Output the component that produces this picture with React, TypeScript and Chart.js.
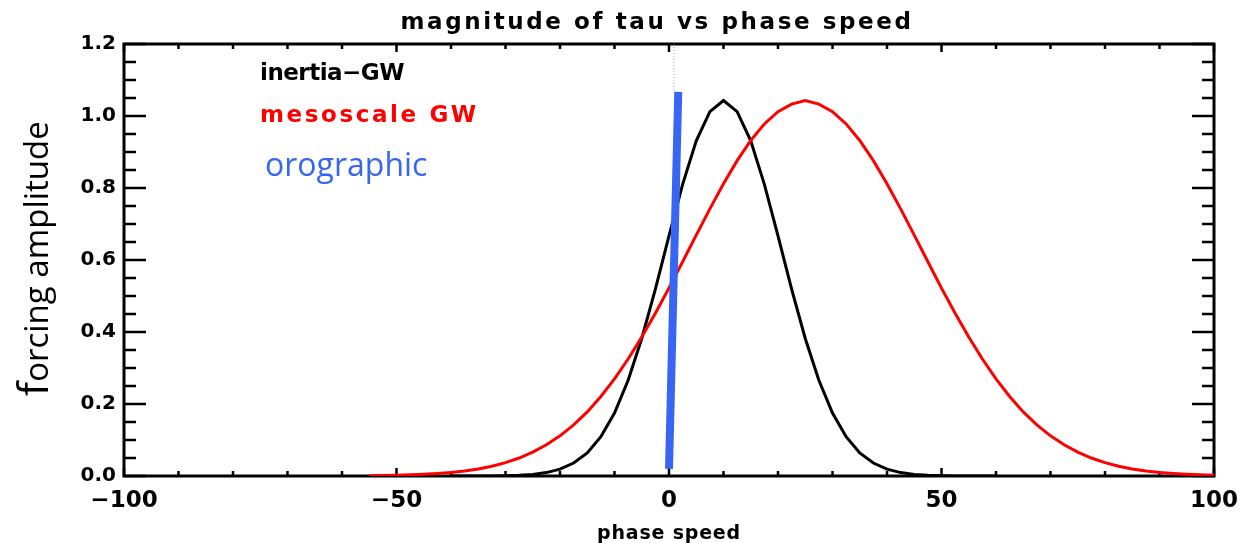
import React, { useEffect, useRef } from 'react';
import { Chart, registerables } from 'chart.js';

Chart.register(...registerables);

const titleText = 'magnitude of tau vs phase speed';
const xAxisTitle = 'phase speed';
const yAxisTitle = 'forcing amplitude';

const inertiaLabel = 'inertia\u2212GW';
const mesoLabel = 'mesoscale GW';
const oroLabel = 'orographic';

const inertiaX = [-40, -37.5, -35, -32.5, -30, -27.5, -25, -22.5, -20, -17.5, -15, -12.5, -10, -7.5, -5, -2.5, 0, 2.5, 5, 7.5, 10, 12.5, 15, 17.5, 20, 22.5, 25, 27.5, 30, 32.5, 35, 37.5, 40, 42.5, 45, 47.5, 50, 52.5, 55, 57.5, 60];
const inertiaY = [0, 0.0001, 0.0001, 0.0003, 0.0009, 0.002, 0.0045, 0.0095, 0.019, 0.036, 0.064, 0.109, 0.175, 0.266, 0.382, 0.519, 0.667, 0.81, 0.931, 1.012, 1.043, 1.012, 0.931, 0.81, 0.667, 0.519, 0.382, 0.266, 0.175, 0.109, 0.064, 0.036, 0.019, 0.0095, 0.0045, 0.002, 0.0009, 0.0003, 0.0001, 0.0001, 0];

const mesoX = [-55, -52.5, -50, -47.5, -45, -42.5, -40, -37.5, -35, -32.5, -30, -27.5, -25, -22.5, -20, -17.5, -15, -12.5, -10, -7.5, -5, -2.5, 0, 2.5, 5, 7.5, 10, 12.5, 15, 17.5, 20, 22.5, 25, 27.5, 30, 32.5, 35, 37.5, 40, 42.5, 45, 47.5, 50, 52.5, 55, 57.5, 60, 62.5, 65, 67.5, 70, 72.5, 75, 77.5, 80, 82.5, 85, 87.5, 90, 92.5, 95, 97.5, 100];
const mesoY = [0.0009, 0.0014, 0.0021, 0.0032, 0.0047, 0.0069, 0.0099, 0.014, 0.0197, 0.0272, 0.0371, 0.0499, 0.0662, 0.0866, 0.1116, 0.142, 0.178, 0.221, 0.27, 0.325, 0.386, 0.452, 0.522, 0.595, 0.669, 0.742, 0.812, 0.876, 0.932, 0.978, 1.012, 1.033, 1.043, 1.033, 1.012, 0.978, 0.932, 0.876, 0.812, 0.742, 0.669, 0.595, 0.522, 0.452, 0.386, 0.325, 0.27, 0.221, 0.178, 0.142, 0.1116, 0.0866, 0.0662, 0.0499, 0.0371, 0.0272, 0.0197, 0.014, 0.0099, 0.0069, 0.0047, 0.0032, 0.0021];

const oroX = [0, 1.7];
const oroY = [0.02, 1.067];

const guideX = [0.9, 0.9];
const guideY = [1.2, 1.07];

const xMin = -100;
const xMax = 100;
const xMajorStep = 50;
const xMinorStep = 10;
const yMin = 0;
const yMax = 1.2;
const yMajorStep = 0.2;
const yMinorStep = 0.05;

const toPoints = (xs: number[], ys: number[]) => xs.map((x, i) => ({ x, y: ys[i] }));

const framePlugin = {
  id: 'idlFrame',
  beforeDatasetsDraw(chart: any) {
    const { ctx, chartArea: a, scales } = chart;
    const x = scales.x;
    const y = scales.y;
    ctx.save();
    ctx.strokeStyle = '#000';
    ctx.lineWidth = 3;
    ctx.lineCap = 'square';
    ctx.strokeRect(a.left, a.top, a.right - a.left, a.bottom - a.top);
    ctx.lineWidth = 2.5;
    ctx.lineCap = 'butt';
    const nx = Math.round((xMax - xMin) / xMinorStep);
    for (let i = 0; i <= nx; i++) {
      const v = xMin + i * xMinorStep;
      const px = x.getPixelForValue(v);
      const major = Math.abs(v / xMajorStep - Math.round(v / xMajorStep)) < 1e-6;
      const len = major ? 8 : 5;
      ctx.beginPath();
      ctx.moveTo(px, a.bottom);
      ctx.lineTo(px, a.bottom - len);
      ctx.moveTo(px, a.top);
      ctx.lineTo(px, a.top + len);
      ctx.stroke();
    }
    const ny = Math.round((yMax - yMin) / yMinorStep);
    for (let i = 0; i <= ny; i++) {
      const v = yMin + i * yMinorStep;
      const py = y.getPixelForValue(v);
      const major = i % Math.round(yMajorStep / yMinorStep) === 0;
      const len = major ? 22 : 12;
      ctx.beginPath();
      ctx.moveTo(a.left, py);
      ctx.lineTo(a.left + len, py);
      ctx.moveTo(a.right, py);
      ctx.lineTo(a.right - len, py);
      ctx.stroke();
    }
    ctx.restore();
  },
};

const textPlugin = {
  id: 'idlTexts',
  afterDraw(chart: any) {
    const { ctx, chartArea: a } = chart;
    const ds = chart.data.datasets;
    ctx.save();
    // title
    ctx.fillStyle = '#000';
    ctx.font = 'bold 23px "DejaVu Sans"';
    ctx.textAlign = 'center';
    ctx.textBaseline = 'alphabetic';
    (ctx as any).letterSpacing = '2.6px';
    ctx.fillText(titleText, a.left + 533, 29);
    // x axis title
    ctx.font = 'bold 19px "DejaVu Sans"';
    (ctx as any).letterSpacing = '0.8px';
    ctx.fillText(xAxisTitle, a.left + 545, 539);
    // series labels
    ctx.textAlign = 'left';
    ctx.font = 'bold 23px "DejaVu Sans"';
    (ctx as any).letterSpacing = '-0.5px';
    ctx.fillStyle = ds[3].borderColor;
    ctx.fillText(ds[3].label, a.left + 136, 80);
    (ctx as any).letterSpacing = '2.6px';
    ctx.fillStyle = ds[2].borderColor;
    ctx.fillText(ds[2].label, a.left + 136, 122);
    (ctx as any).letterSpacing = '0px';
    ctx.font = '32px "Open Sans"';
    ctx.fillStyle = ds[0].borderColor;
    ctx.fillText(ds[0].label, a.left + 141, 176);
    // y axis title (rotated, larger first letter)
    ctx.translate(48, 396);
    ctx.rotate(-Math.PI / 2);
    ctx.fillStyle = '#000';
    ctx.font = '42px "Open Sans"';
    ctx.fillText(yAxisTitle.charAt(0), 0, 0);
    const w = ctx.measureText(yAxisTitle.charAt(0)).width;
    ctx.font = '33px "Open Sans"';
    ctx.fillText(yAxisTitle.slice(1), w, 0);
    ctx.restore();
  },
};

export default function App() {
  const ref = useRef<HTMLCanvasElement | null>(null);
  useEffect(() => {
    if (!ref.current) return;
    const chart = new Chart(ref.current, {
      type: 'scatter',
      data: {
        datasets: [
          {
            label: oroLabel,
            data: toPoints(oroX, oroY),
            showLine: true,
            borderColor: '#3866f2',
            backgroundColor: '#3866f2',
            borderWidth: 8,
            borderCapStyle: 'butt',
            pointRadius: 0,
            tension: 0,
          },
          {
            label: 'guide',
            data: toPoints(guideX, guideY),
            showLine: true,
            borderColor: 'rgba(110,130,200,0.7)',
            borderWidth: 1,
            borderDash: [1, 2],
            pointRadius: 0,
            tension: 0,
          },
          {
            label: mesoLabel,
            data: toPoints(mesoX, mesoY),
            showLine: true,
            borderColor: '#ff0000',
            backgroundColor: '#ff0000',
            borderWidth: 3,
            pointRadius: 0,
            tension: 0,
          },
          {
            label: inertiaLabel,
            data: toPoints(inertiaX, inertiaY),
            showLine: true,
            borderColor: '#000000',
            backgroundColor: '#000000',
            borderWidth: 3,
            pointRadius: 0,
            tension: 0,
          },
        ],
      } as any,
      options: {
        animation: false,
        responsive: false,
        maintainAspectRatio: false,
        layout: { padding: { top: 44, right: 36, left: 0, bottom: 0 } },
        plugins: {
          legend: { display: false },
          title: { display: false },
          tooltip: { enabled: false },
        },
        scales: {
          x: {
            type: 'linear',
            min: xMin,
            max: xMax,
            grid: { display: false, drawTicks: false },
            border: { display: false },
            ticks: {
              stepSize: xMajorStep,
              autoSkip: false,
              maxRotation: 0,
              padding: 11,
              color: '#000',
              font: { family: 'DejaVu Sans', size: 23, weight: 'bold' },
              callback: (v: any) => String(v).replace('-', '\u2212'),
            },
            afterFit: (s: any) => {
              s.height = 67;
            },
          },
          y: {
            type: 'linear',
            min: yMin,
            max: yMax,
            grid: { display: false, drawTicks: false },
            border: { display: false },
            ticks: {
              stepSize: yMajorStep,
              autoSkip: false,
              padding: 8,
              color: '#000',
              font: { family: 'DejaVu Sans', size: 20, weight: 'bold' },
              callback: (v: any) => Number(v).toFixed(1),
            },
            afterFit: (s: any) => {
              s.width = 124;
            },
          },
        },
      } as any,
      plugins: [framePlugin, textPlugin],
    });
    return () => chart.destroy();
  }, []);
  return (
    <div style={{ position: 'fixed', left: 0, top: 0, width: 1250, height: 543, background: '#fff' }}>
      <canvas ref={ref} width={1250} height={543} />
    </div>
  );
}
